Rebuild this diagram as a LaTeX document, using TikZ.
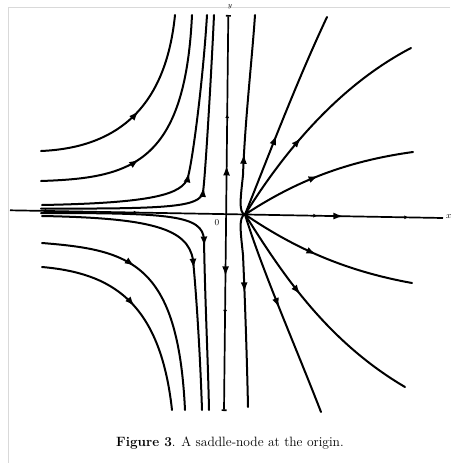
\documentclass[tikz,border=0pt]{standalone}
\usetikzlibrary{arrows.meta,decorations.markings}
\begin{document}
\begin{tikzpicture}[x=1pt,y=-1pt,
  traj/.style={line width=2pt, line cap=round, line join=round},
  axisline/.style={line width=1.7pt},
  arr/.style={postaction={decorate,decoration={markings,
      mark=at position #1 with {\arrow{Latex[length=10pt,width=7pt]}}}}},
  rarr/.style={postaction={decorate,decoration={markings,
      mark=at position #1 with {\arrowreversed{Latex[length=10pt,width=7pt]}}}}},
  tick/.style={postaction={decorate,decoration={markings,
      mark=at position #1 with {\arrow{Latex[length=4pt,width=4pt]}}}}},
  rtick/.style={postaction={decorate,decoration={markings,
      mark=at position #1 with {\arrowreversed{Latex[length=4pt,width=4pt]}}}}},
  frame/.style={gray!30, line width=0.8pt},
]
\useasboundingbox (0,0) rectangle (450,463);
\clip (0,0) rectangle (450,463);
\draw[frame] (450,7.5) -- (8.5,7.5) -- (8.5,463);

% axes
\coordinate (xl) at (10,210.3);
\coordinate (xr) at (443,218);
\coordinate (yt) at (228.3,15);
\coordinate (yb) at (224,411);
\coordinate (n) at (245,214.5);
\draw[axisline, arr=0.77, tick=0.71, tick=0.92, tick=0.09, tick=0.295] (xl) -- (xr);
\draw[axisline, {Bar[width=5pt]}-{Bar[width=5pt]},
      rarr=0.38, rtick=0.25, arr=0.66, tick=0.755] (yt) -- (yb);

% upper-left family
\draw[traj, arr=0.51] (41,151) .. controls (110,148) and (165,115) .. (175,15);
\draw[traj, arr=0.39] (41,181) .. controls (130,178) and (185,165) .. (192,15);
\draw[traj, arr=0.50] (42,205) .. controls (150,203) and (183,195) .. (188,177)
                     .. controls (193,158) and (203,80) .. (207,15);
\draw[traj, arr=0.50] (41,208.5) .. controls (170,209) and (200,207) .. (203,192)
                       .. controls (205,180) and (211,80) .. (214,15);
% lower-left family
\draw[traj, arr=0.525] (41,213) .. controls (170,213) and (203,215) .. (204,240)
                     .. controls (205,300) and (208,360) .. (209,410);
\draw[traj, arr=0.555] (42,216) .. controls (150,218) and (188,228) .. (193,260)
                     .. controls (196,290) and (200,350) .. (202,410);
\draw[traj, arr=0.38] (42,243) .. controls (130,250) and (178,262) .. (185,410);
\draw[traj, arr=0.48] (42,267) .. controls (110,273) and (160,300) .. (172,410);
% near-vertical curves through the node
\draw[traj, arr=0.31] (n) .. controls (238,213) and (241,195) .. (243,175)
                .. controls (245,120) and (252,60) .. (255,15);
\draw[traj, arr=0.41] (n) .. controls (238,216) and (241,235) .. (243,255)
                .. controls (245,300) and (247,360) .. (248,407);
% right family
\draw[traj, arr=0.40] (n) .. controls (265,165) and (295,85) .. (327,17);
\draw[traj, arr=0.40] (n) .. controls (285,150) and (340,85) .. (411,48);
\draw[traj, arr=0.46] (n) .. controls (290,185) and (340,162) .. (413,152);
\draw[traj, arr=0.45] (n) .. controls (290,245) and (340,270) .. (412,283);
\draw[traj, arr=0.41] (n) .. controls (280,270) and (325,340) .. (405,387);
\draw[traj, arr=0.47] (n) .. controls (262,270) and (295,345) .. (321,412);

% labels
\node (o) at (217,223) {\fontsize{9}{10}\selectfont 0};
\node[anchor=base, inner sep=0pt] (ylab) at (230,8) {\fontsize{7}{8}\selectfont$y$};
\node[anchor=west, inner sep=0pt] (xlab) at (446,217) {\fontsize{9}{10}\selectfont$x$};
\node[anchor=base] (cap) at (230,446.5) {\fontsize{13.5}{15}\selectfont\textbf{Figure 3}. A saddle-node at the origin.};
\end{tikzpicture}
\end{document}
